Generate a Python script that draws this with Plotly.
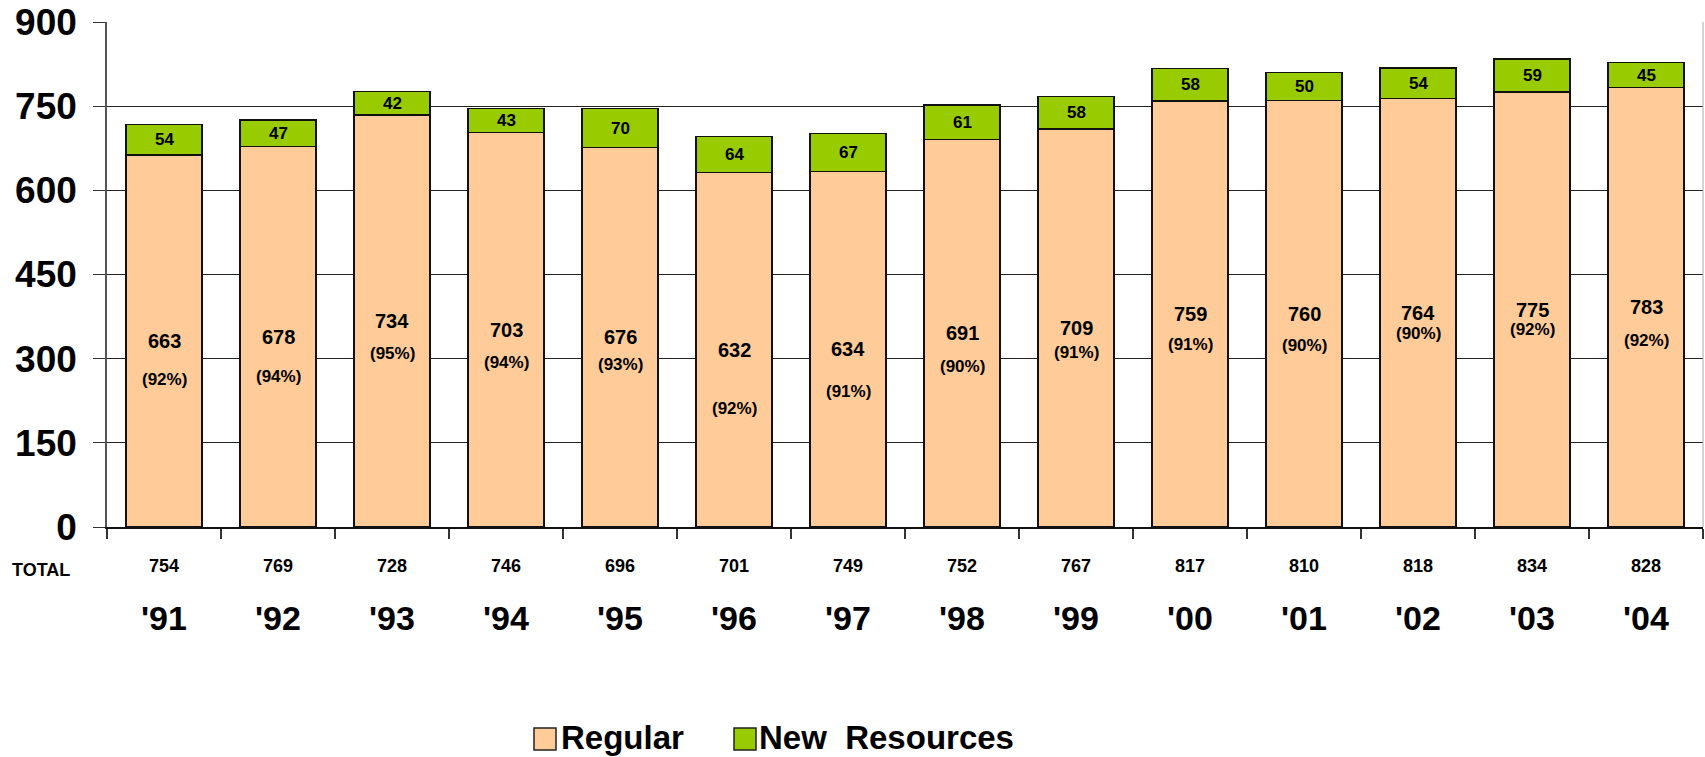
import plotly.graph_objects as go

# ---- data ----
categories = ["'91", "'92", "'93", "'94", "'95", "'96", "'97", "'98", "'99", "'00", "'01", "'02", "'03", "'04"]
regular = [663, 678, 734, 703, 676, 632, 634, 691, 709, 759, 760, 764, 775, 783]
new_resources = [54, 47, 42, 43, 70, 64, 67, 61, 58, 58, 50, 54, 59, 45]
regular_pct = ["92%", "94%", "95%", "94%", "93%", "92%", "91%", "90%", "91%", "91%", "90%", "90%", "92%", "92%"]
totals = [754, 769, 728, 746, 696, 701, 749, 752, 767, 817, 810, 818, 834, 828]
y_ticks = [0, 150, 300, 450, 600, 750, 900]
series_names = ["Regular", "New\u00a0 Resources"]

# ---- layout helpers (pixel offsets of the percentage labels below the value labels) ----
pct_offsets = [39, 40, 32, 33, 27, 59, 42, 33, 24, 30, 32, 21, 20, 33]

PEACH = "#FFCC99"
GREEN = "#99CC00"
FONT = "Liberation Sans, Arial, sans-serif"

W, H = 1705, 757
PLOT_L, PLOT_T, PLOT_W, PLOT_H = 107, 22, 1596, 505  # page pixels


def px(x_abs):
    return (x_abs - PLOT_L) / PLOT_W


def py(y_abs):
    return (PLOT_T + PLOT_H - y_abs) / PLOT_H


fig = go.Figure()
fig.add_trace(go.Bar(
    x=categories, y=regular, name=series_names[0],
    marker=dict(color=PEACH, line=dict(color="#111111", width=1.5)),
    hoverinfo="x+y", showlegend=False,
))
fig.add_trace(go.Bar(
    x=categories, y=new_resources, name=series_names[1],
    marker=dict(color=GREEN, line=dict(color="#111111", width=1.5)),
    hoverinfo="x+y", showlegend=False,
))


def bold(s):
    return dict(family=FONT, size=s, color="black", weight="bold")


annotations = []
for i, cat in enumerate(categories):
    annotations.append(dict(x=cat, y=regular[i] / 2, xref="x", yref="y", text=str(regular[i]),
                            xanchor="center", yanchor="middle", showarrow=False, font=bold(20)))
    annotations.append(dict(x=cat, y=regular[i] / 2, xref="x", yref="y", text="(" + regular_pct[i] + ")",
                            xanchor="center", yanchor="middle",
                            yshift=-pct_offsets[i], showarrow=False, font=bold(17)))
    annotations.append(dict(x=cat, y=regular[i] + new_resources[i] / 2, xref="x", yref="y",
                            xanchor="center", yanchor="middle",
                            text=str(new_resources[i]), showarrow=False, font=bold(17)))
    annotations.append(dict(x=cat, y=py(566), xref="x", yref="paper", text=str(totals[i]),
                            xanchor="center", yanchor="middle", showarrow=False, font=bold(18)))
    annotations.append(dict(x=cat, y=py(618), xref="x", yref="paper", text=cat,
                            xanchor="center", yanchor="middle", showarrow=False, font=bold(34)))

annotations.append(dict(x=px(40.5), y=py(570), xref="paper", yref="paper", text="TOTAL",
                        xanchor="center", yanchor="middle", showarrow=False, font=bold(18)))

# ---- legend (drawn manually to match the large square swatches) ----
legend_items = [(PEACH, 534, 556, 559), (GREEN, 734, 756, 757)]
shapes = [dict(type="line", xref="paper", yref="paper", x0=1, x1=1, y0=0, y1=1,
               line=dict(color="#AAAAAA", width=1))]
for (color, sx0, sx1, tx), name in zip(legend_items, series_names):
    shapes.append(dict(type="rect", xref="paper", yref="paper",
                       x0=px(sx0), x1=px(sx1), y0=py(750), y1=py(728),
                       fillcolor=color, line=dict(color="#222222", width=1.5)))
    annotations.append(dict(x=px(tx), y=py(737), xref="paper", yref="paper", text=name,
                            xanchor="left", yanchor="middle", showarrow=False, font=bold(33)))

fig.update_layout(
    barmode="stack",
    bargap=0.33,
    width=W, height=H,
    margin=dict(l=PLOT_L, r=W - PLOT_L - PLOT_W, t=PLOT_T, b=H - PLOT_T - PLOT_H),
    paper_bgcolor="white", plot_bgcolor="white",
    font=dict(family=FONT, color="black"),
    showlegend=False,
    annotations=annotations,
    shapes=shapes,
)

fig.update_xaxes(
    type="category", showticklabels=False,
    ticks="outside", tickson="boundaries", ticklen=10, tickcolor="#333333", tickwidth=1.5,
    showline=True, linecolor="#111111", linewidth=1.5,
    showgrid=False, zeroline=False,
)
fig.update_yaxes(
    range=[0, 900], tickvals=y_ticks,
    ticks="outside", ticklen=12, tickcolor="#333333", tickwidth=1,
    ticklabelstandoff=9, ticklabeloverflow="allow",
    tickfont=dict(family=FONT, size=37, color="black", weight="bold"),
    showline=True, linecolor="#555555", linewidth=1.5,
    showgrid=True, gridcolor="#222222", gridwidth=1,
    zeroline=False,
)

fig.write_html("out.html", config={"displayModeBar": False},
               post_script="document.body.style.margin='0';document.body.style.overflow='hidden';")
